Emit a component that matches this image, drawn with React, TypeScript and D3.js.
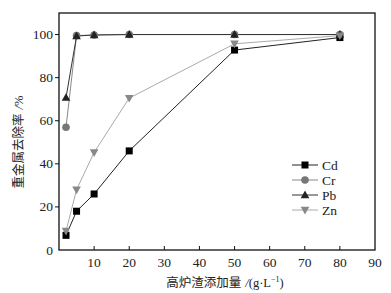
import React from "react";
import * as d3 from "d3";

const xValues = [2, 5, 10, 20, 50, 80];
const cdValues = [6.8, 18, 26, 46, 92.8, 98.6];
const crValues = [57, 99.5, 99.8, 100, 100, 100];
const pbValues = [70.7, 99.3, 99.8, 100, 100, 100];
const znValues = [8.8, 28, 45.3, 70.5, 95.7, 99.5];
const seriesNames = ["Cd", "Cr", "Pb", "Zn"];
const xTicks = [10, 20, 30, 40, 50, 60, 70, 80, 90];
const yTicks = [0, 20, 40, 60, 80, 100];

const W = 391, H = 293;
const m = { l: 59, r: 16, t: 13, b: 43 };

const x = d3.scaleLinear().domain([0, 90]).range([m.l, W - m.r]);
const y = d3.scaleLinear().domain([0, 110]).range([H - m.b, m.t]);

const styles = [
  { line: "#222", fill: "#000", shape: "square" },
  { line: "#888", fill: "#777", shape: "circle" },
  { line: "#333", fill: "#222", shape: "triangle" },
  { line: "#aaa", fill: "#888", shape: "tridown" },
];

function Marker({ cx, cy, shape, fill }: { cx: number; cy: number; shape: string; fill: string }) {
  if (shape === "square") return <rect x={cx - 3.5} y={cy - 3.5} width={7} height={7} fill={fill} />;
  if (shape === "circle") return <circle cx={cx} cy={cy} r={3.8} fill={fill} />;
  if (shape === "triangle")
    return <path d={`M${cx},${cy - 4.5}L${cx + 4.3},${cy + 3.2}L${cx - 4.3},${cy + 3.2}Z`} fill={fill} />;
  return <path d={`M${cx},${cy + 4.5}L${cx + 4.3},${cy - 3.2}L${cx - 4.3},${cy - 3.2}Z`} fill={fill} />;
}

export default function App() {
  const all = [cdValues, crValues, pbValues, znValues];
  const line = d3
    .line<number>()
    .x((_, i) => x(xValues[i]))
    .y((d) => y(d));
  const font = "'Liberation Serif', 'Times New Roman', serif";
  const cjk = "'Noto Sans CJK SC', sans-serif";
  return (
    <svg width={W} height={H} style={{ position: "absolute", left: 0, top: 0, background: "#fff" }}>
      <rect x={m.l} y={m.t} width={W - m.r - m.l} height={H - m.b - m.t} fill="none" stroke="#111" strokeWidth={1.3} />
      {xTicks.map((t) => (
        <g key={t}>
          {t < 90 && <line x1={x(t)} x2={x(t)} y1={y(0)} y2={y(0) - 4} stroke="#111" />}
          <text x={x(t)} y={y(0) + 17} textAnchor="middle" fontFamily={font} fontSize={13.5} fill="#222">
            {t}
          </text>
        </g>
      ))}
      {yTicks.map((t) => (
        <g key={t}>
          {t > 0 && <line x1={m.l} x2={m.l - 4} y1={y(t)} y2={y(t)} stroke="#111" />}
          <text x={m.l - 6} y={y(t) + 4.5} textAnchor="end" fontFamily={font} fontSize={13.5} fill="#222">
            {t}
          </text>
        </g>
      ))}
      {all.map((vals, si) => (
        <path key={si} d={line(vals) || ""} fill="none" stroke={styles[si].line} strokeWidth={1} />
      ))}
      {all.map((vals, si) =>
        vals.map((v, i) => (
          <Marker key={`${si}-${i}`} cx={x(xValues[i])} cy={y(v)} shape={styles[si].shape} fill={styles[si].fill} />
        ))
      )}
      {seriesNames.map((n, i) => {
        const ly = 165 + i * 15;
        return (
          <g key={n}>
            <line x1={292} x2={318} y1={ly} y2={ly} stroke={styles[i].line} />
            <Marker cx={305} cy={ly} shape={styles[i].shape} fill={styles[i].fill} />
            <text x={322} y={ly + 4.5} fontFamily={font} fontSize={13.5} fill="#222">
              {n}
            </text>
          </g>
        );
      })}
      <text x={225} y={287} textAnchor="middle" fontSize={12.5} fill="#222">
        <tspan fontFamily={cjk}>高炉渣添加量</tspan>
        <tspan fontFamily={font} fontStyle="italic" dx={4}>/</tspan>
        <tspan fontFamily={font}>(g·L</tspan>
        <tspan fontFamily={font} fontSize={8} dy={-5}>−1</tspan>
        <tspan fontFamily={font} dy={5}>)</tspan>
      </text>
      <text
        transform={`translate(23,${142}) rotate(-90)`}
        textAnchor="middle"
        fontSize={12.5}
        fill="#222"
      >
        <tspan fontFamily={cjk}>重金属去除率</tspan>
        <tspan fontFamily={font} fontStyle="italic" dx={4}>/</tspan>
        <tspan fontFamily={font}>%</tspan>
      </text>
    </svg>
  );
}
